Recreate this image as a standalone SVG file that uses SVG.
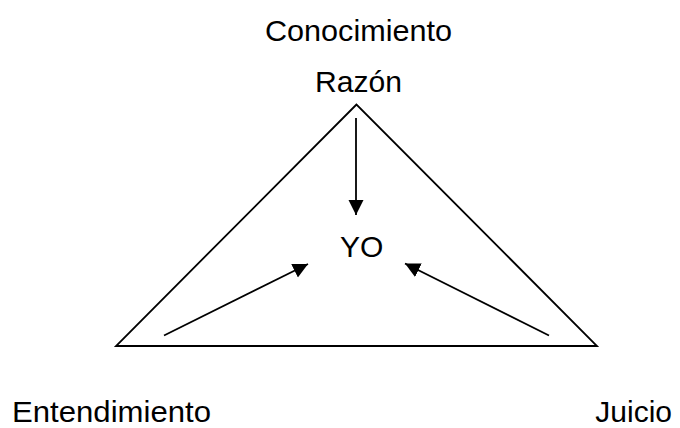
<svg xmlns="http://www.w3.org/2000/svg" width="680" height="428" viewBox="0 0 680 428">
<style>
text{font-family:"Liberation Sans",Arial,sans-serif;font-size:30px;fill:#000}
.ln{stroke:#000;stroke-width:1.8;fill:none}
</style>
<defs>
<marker id="ah" markerUnits="userSpaceOnUse" markerWidth="16" markerHeight="16" refX="15" refY="7.5" orient="auto">
<path d="M0,0 L15,7.5 L0,15 z" fill="#000"/>
</marker>
</defs>
<rect width="680" height="428" fill="#fff"/>
<g id="triangle">
<polygon class="ln" points="356.5,104.5 116,346 597,346"/>
</g>
<g id="conocimiento"><text x="265" y="41" textLength="187" lengthAdjust="spacingAndGlyphs">Conocimiento</text></g>
<g id="razon"><text x="315" y="92" textLength="87" lengthAdjust="spacingAndGlyphs">Razón</text></g>
<g id="yo"><text x="340" y="257">YO</text></g>
<g id="entendimiento"><text x="12" y="422" textLength="199" lengthAdjust="spacingAndGlyphs">Entendimiento</text></g>
<g id="juicio"><text x="672" y="422" text-anchor="end">Juicio</text></g>
<g id="connectors">
<line class="ln" x1="356" y1="118" x2="356" y2="215" marker-end="url(#ah)"/>
<line class="ln" x1="164" y1="335.5" x2="308" y2="264" marker-end="url(#ah)"/>
<line class="ln" x1="549" y1="335.5" x2="405" y2="263.5" marker-end="url(#ah)"/>
</g>
</svg>
